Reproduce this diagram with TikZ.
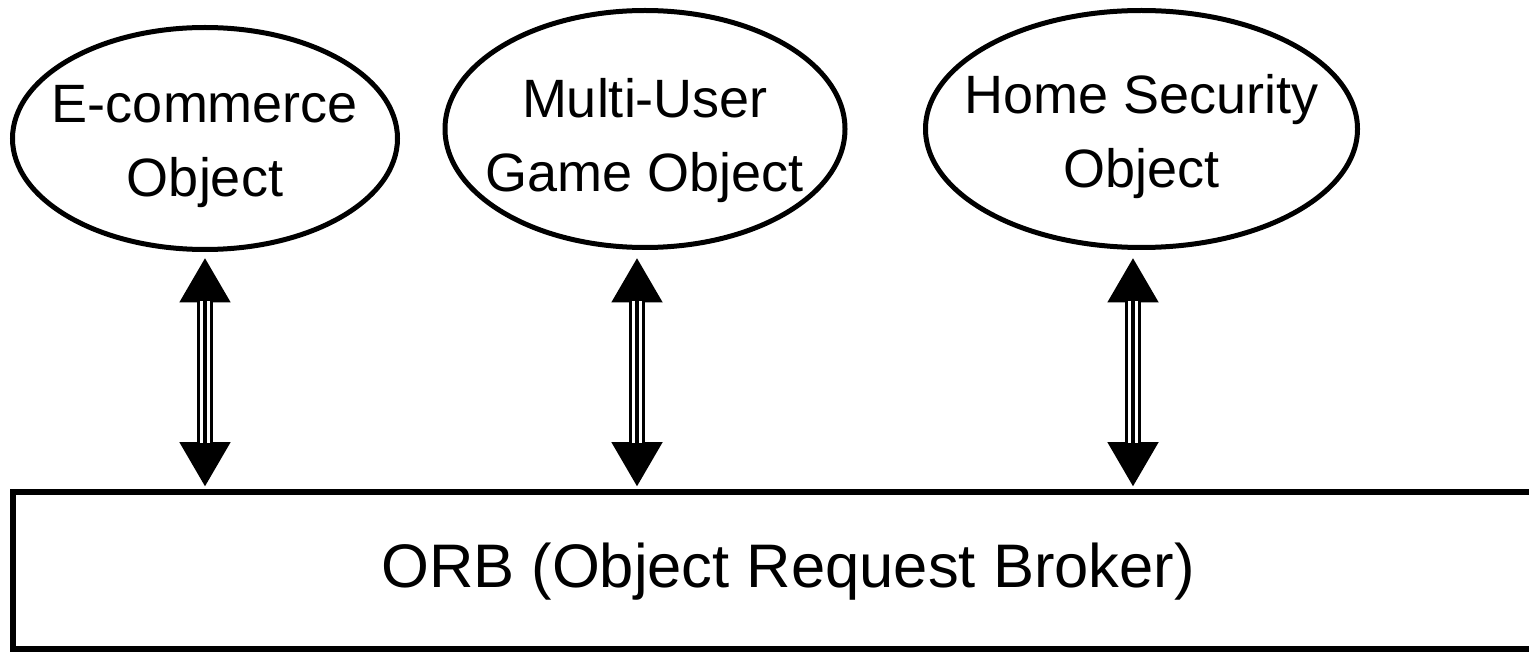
\documentclass[tikz,border=0pt]{standalone}
\usepackage{fontspec}
\setmainfont{Liberation Sans}
\usetikzlibrary{shapes.geometric,arrows.meta}
\begin{document}
\begin{tikzpicture}[x=1pt,y=-1pt,
  objnode/.style={ellipse,draw,line width=5pt,inner sep=0pt},
  objtext/.style={align=center,inner sep=0pt,font=\fontsize{54}{74}\selectfont},
  broker/.style={rectangle,draw,line width=6pt,inner sep=0pt},
  link/.style={line width=16pt,
    {Triangle[length=45pt,width=48pt]}-{Triangle[length=45pt,width=48pt]}},
  gap/.style={white,line width=9.4pt,shorten <=44pt,shorten >=44pt},
  core/.style={line width=3.6pt,shorten <=44pt,shorten >=44pt}]
\clip (0,0) rectangle (1529,652);

% application objects
\node[objnode,minimum width=385pt,minimum height=222pt] (ecom) at (205,138.5) {};
\node[objnode,minimum width=400pt,minimum height=237pt] (game) at (645,129) {};
\node[objnode,minimum width=432pt,minimum height=237pt] (home) at (1141.5,129) {};
\node[objtext] (ecomtext) at (205,147) {E-commerce\\Object};
\node[objtext] (gametext) at (645,141) {Multi-User\\Game Object};
\node[objtext] (hometext) at (1141.5,137) {Home Security\\Object};

% the broker bar, running off the right-hand side
\node[broker,minimum width=1519pt,minimum height=157pt] (orb) at (772.5,570.5) {};
\node[font=\fontsize{61.5}{70}\selectfont] (orbtext) at (788,572) {ORB (Object Request Broker)};

% arrow end points
\coordinate (t1) at ([yshift=-5.5pt]ecom.south);
\coordinate (t2) at ([xshift=-8pt,yshift=-7.5pt]game.south);
\coordinate (t3) at ([xshift=-8.5pt,yshift=-7.5pt]home.south);
\coordinate (b1) at (t1 |- orb.north);
\coordinate (b2) at (t2 |- orb.north);
\coordinate (b3) at (t3 |- orb.north);

% triple-line two-way arrows
\foreach \i in {1,2,3}{
  \draw[link] (t\i) -- ([yshift=2pt]b\i);
  \draw[gap] (t\i) -- ([yshift=2pt]b\i);
  \draw[core] (t\i) -- ([yshift=2pt]b\i);
}
\end{tikzpicture}
\end{document}
